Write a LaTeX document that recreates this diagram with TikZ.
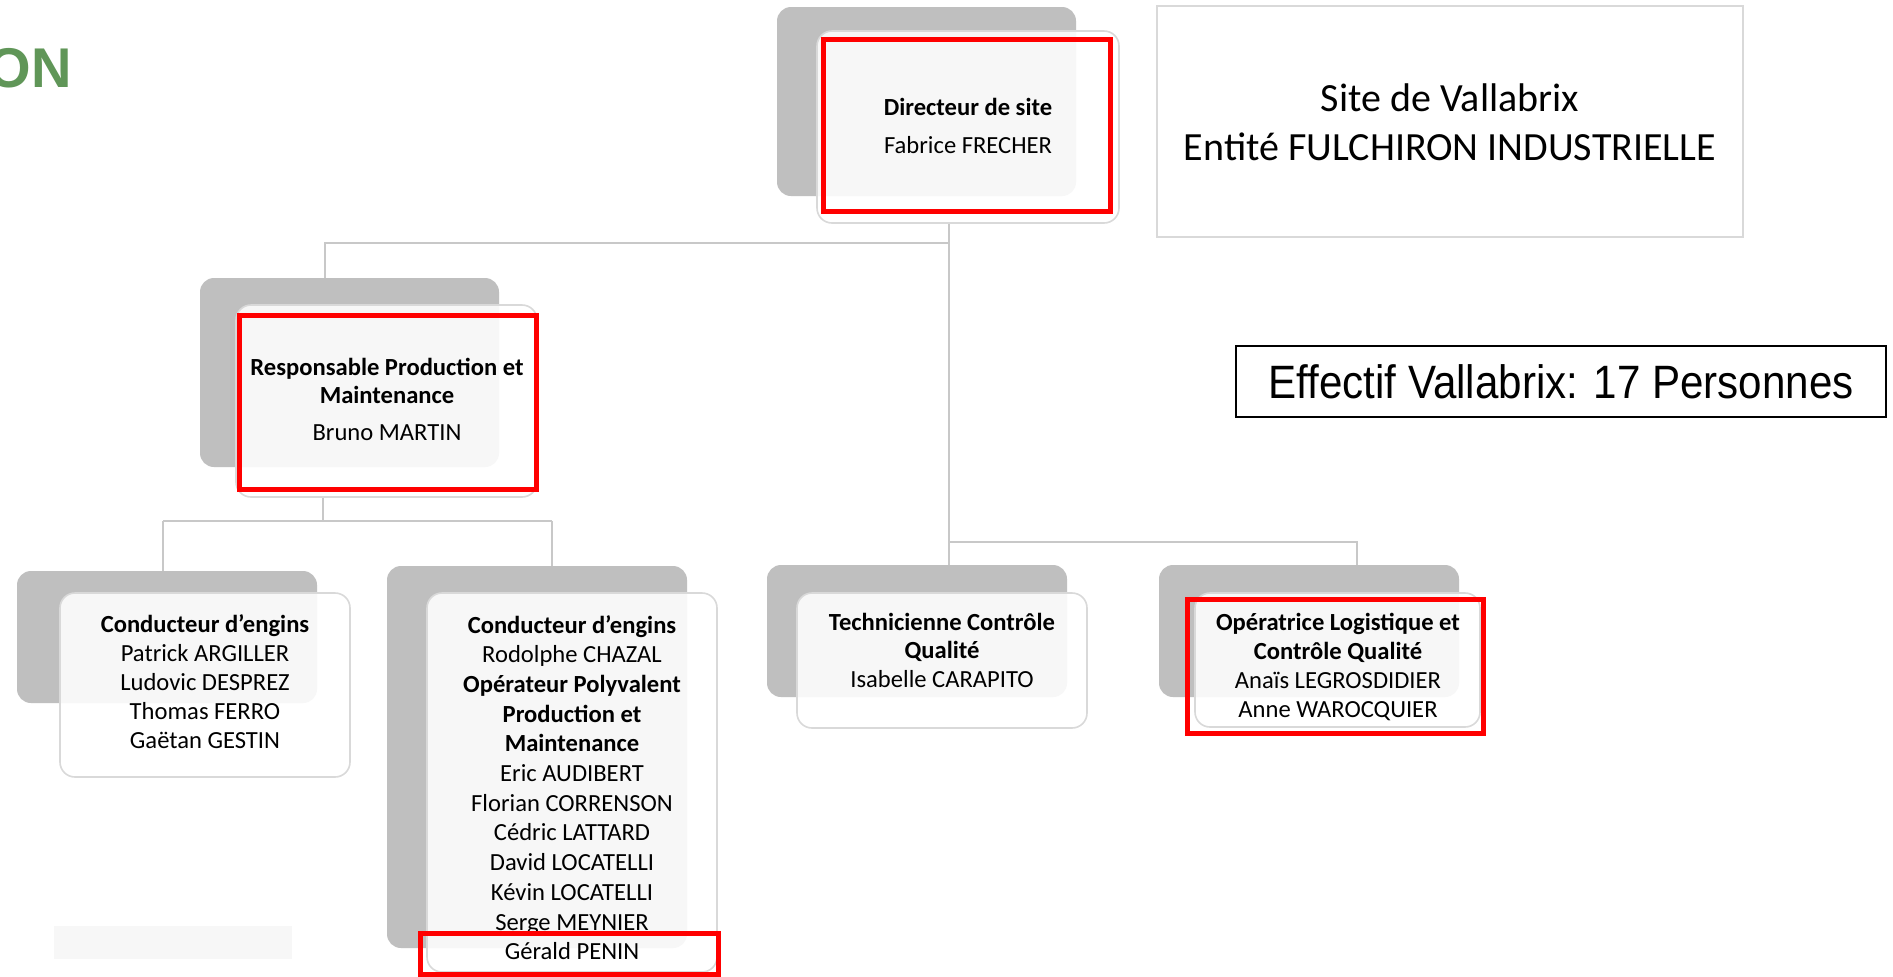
\documentclass[tikz,border=0pt]{standalone}
\usepackage{fontspec}
\setmainfont{Carlito}
\newfontfamily\arialf{Liberation Sans}
\usetikzlibrary{fit}
\definecolor{shade}{HTML}{BFBFBF}
\definecolor{cardline}{HTML}{D9D9D9}
\definecolor{conncol}{HTML}{C8C8C8}
\definecolor{logogreen}{RGB}{96,150,88}
\definecolor{pale}{HTML}{F7F7F7}
\newcommand{\boxtext}[2]{{\fontsize{12.3}{#1}\selectfont\begin{tabular}[t]{@{}c@{}}#2\end{tabular}}}
\tikzset{
  backbox/.style={fill=shade, rounded corners=7pt, inner sep=0pt},
  cardbox/.style={draw=cardline, line width=0.8pt, fill=white, fill opacity=0.88, rounded corners=7.5pt, inner sep=0pt},
  redframe/.style={draw=red, line width=2.5pt, inner sep=0pt},
  conn/.style={draw=conncol, line width=1pt},
  lbl/.style={anchor=base, inner sep=0pt, text=black}
}
\begin{document}
\begin{tikzpicture}[x=0.5pt, y=-0.5pt]
\useasboundingbox (0,0) rectangle (1893,976);
\fill[white] (0,0) rectangle (1893,976);

% logo fragment
\node[anchor=base east, inner sep=0pt, text=logogreen, font={\arialf\bfseries\fontsize{28}{30}\selectfont}] (logo) at (72,87) {ON};

% junctions
\coordinate (jA) at (949,243);
\coordinate (jB) at (325,243);
\coordinate (jC) at (949,542);
\coordinate (jD) at (1357,542);
\coordinate (jE) at (323,521);
\coordinate (jF) at (163,521);
\coordinate (jG) at (552,521);

% back boxes
\node[backbox, fit={(777,7)(1076,196)}] (dir-s) {};
\node[backbox, fit={(200,278)(499,467)}] (resp-s) {};
\node[backbox, fit={(17,571)(317,703)}] (cond1-s) {};
\node[backbox, fit={(387,566)(687,948)}] (cond2-s) {};
\node[backbox, fit={(767,565)(1067,697)}] (tech-s) {};
\node[backbox, fit={(1159,565)(1459,697)}] (oper-s) {};

% front cards
\node[cardbox, fit={(817,31)(1119,223)}] (dir) {};
\node[cardbox, fit={(236,305)(537,497)}] (resp) {};
\node[cardbox, fit={(60,593)(350,777)}] (cond1) {};
\node[cardbox, fit={(427,593)(717,972)}] (cond2) {};
\node[cardbox, fit={(797,593)(1087,728)}] (tech) {};
\node[cardbox, fit={(1195,593)(1480,727)}] (oper) {};

% connectors
\draw[conn] (dir.south -| jA) -- (tech-s.north -| jA);
\draw[conn] (jA) -- (jB) -- (resp-s.north -| jB);
\draw[conn] (jC) -- (jD) -- (oper-s.north -| jD);
\draw[conn] (resp.south -| jE) -- (jE);
\draw[conn] (jF) -- (jG);
\draw[conn] (jF) -- (cond1-s.north -| jF);
\draw[conn] (jG) -- (cond2-s.north -| jG);

% texts
\node[lbl] (dir-t) at (968,115) {\boxtext{14.6}{\textbf{Directeur de site}\\[4.4pt] Fabrice FRECHER}};
\node[lbl] (resp-t) at (387,375) {\boxtext{14.1}{\textbf{Responsable Production et}\\ \textbf{Maintenance}\\[4.4pt] Bruno MARTIN}};
\node[lbl] (cond1-t) at (205,632) {\boxtext{14.6}{\textbf{Conducteur d’engins}\\ Patrick ARGILLER\\ Ludovic DESPREZ\\ Thomas FERRO\\ Gaëtan GESTIN}};
\node[lbl] (cond2-t) at (572,633) {\boxtext{14.85}{\textbf{Conducteur d’engins}\\ Rodolphe CHAZAL\\ \textbf{Opérateur Polyvalent}\\ \textbf{Production et}\\ \textbf{Maintenance}\\ Eric AUDIBERT\\ Florian CORRENSON\\ Cédric LATTARD\\ David LOCATELLI\\ Kévin LOCATELLI\\ Serge MEYNIER\\ Gérald PENIN}};
\node[lbl] (tech-t) at (942,630) {\boxtext{14.3}{\textbf{Technicienne Contrôle}\\ \textbf{Qualité}\\ Isabelle CARAPITO}};
\node[lbl] (oper-t) at (1338,630) {\boxtext{14.5}{\textbf{Opératrice Logistique et}\\ \textbf{Contrôle Qualité}\\ Anaïs LEGROSDIDIER\\ Anne WAROCQUIER}};

% site box
\node[draw=cardline, line width=1pt, inner sep=0pt, fit={(1157,6)(1743,237)}] (site) {};
\node[lbl] (site-t) at (1450,111) {\fontsize{20}{24.5}\selectfont\begin{tabular}[t]{@{}c@{}}Site de Vallabrix\\ Entité FULCHIRON INDUSTRIELLE\end{tabular}};

% headcount box
\node[draw=black, line width=0.6pt, inner sep=0pt, fit={(1236,346)(1886,417)}] (eff) {};
\node[lbl] (eff-t) at (1561,398) {\arialf\fontsize{23.4}{28}\selectfont\scalebox{0.9}[1]{Effectif Vallabrix: 17 Personnes}};

% pale strip
\node[fill=pale, inner sep=0pt, fit={(54,926)(292,959)}] (strip) {};

% red highlight frames
\node[redframe, fit={(823,39)(1110,211)}] (dir-r) {};
\node[redframe, fit={(239,315)(536,489)}] (resp-r) {};
\node[redframe, fit={(420,933)(718,974)}] (penin-r) {};
\node[redframe, fit={(1187,599)(1483,733)}] (oper-r) {};
\end{tikzpicture}
\end{document}
